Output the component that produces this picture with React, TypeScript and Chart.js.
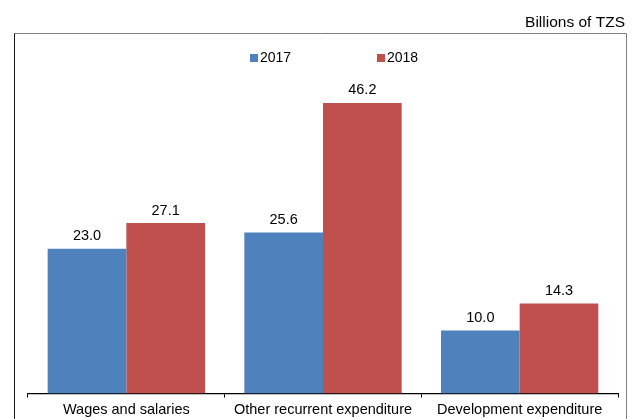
import React, { useEffect, useRef } from "react";
import { Chart, registerables } from "chart.js";

Chart.register(...registerables);

const categories = ["Wages and salaries", "Other recurrent expenditure", "Development expenditure"];
const series2017 = [23.0, 25.6, 10.0];
const series2018 = [27.1, 46.2, 14.3];
const seriesLabels = ["2017", "2018"];
const seriesColors = ["#4F81BD", "#C0504D"];
const unitLabel = "Billions of TZS";

const FONT = "'Liberation Sans', Arial, sans-serif";

const framePlugin = {
  id: "frame",
  beforeDraw(chart: any) {
    const ctx = chart.ctx;
    ctx.save();
    ctx.fillStyle = "#ffffff";
    ctx.fillRect(0, 0, chart.width, chart.height);
    ctx.lineWidth = 1;
    ctx.strokeStyle = "#808080";
    ctx.beginPath();
    ctx.moveTo(14.5, 33.5);
    ctx.lineTo(626.5, 33.5);
    ctx.lineTo(626.5, chart.height);
    ctx.stroke();
    ctx.strokeStyle = "#1a1a1a";
    ctx.beginPath();
    ctx.moveTo(14.5, 33.5);
    ctx.lineTo(14.5, chart.height);
    ctx.stroke();
    ctx.fillStyle = "#000";
    ctx.font = `15.5px ${FONT}`;
    ctx.textAlign = "right";
    ctx.textBaseline = "middle";
    ctx.fillText(unitLabel, 625, 23);
    // legend
    ctx.font = `14px ${FONT}`;
    const items = chart.data.datasets;
    const xs = [250, 377];
    items.forEach((ds: any, i: number) => {
      ctx.fillStyle = ds.backgroundColor;
      ctx.fillRect(xs[i], 54, 8, 8);
      ctx.fillStyle = "#000";
      ctx.textAlign = "left";
      ctx.fillText(ds.label, xs[i] + 10, 58.5);
    });
    ctx.restore();
  },
  afterDatasetsDraw(chart: any) {
    const ctx = chart.ctx;
    ctx.save();
    ctx.font = `14.5px ${FONT}`;
    ctx.fillStyle = "#000";
    ctx.textAlign = "center";
    ctx.textBaseline = "middle";
    chart.data.datasets.forEach((ds: any, di: number) => {
      const meta = chart.getDatasetMeta(di);
      meta.data.forEach((bar: any, i: number) => {
        ctx.fillText(Number(ds.data[i]).toFixed(1), bar.x, bar.y - 12.5);
      });
    });
    ctx.restore();
  },
};

export default function App() {
  const ref = useRef<HTMLCanvasElement | null>(null);
  useEffect(() => {
    document.body.style.margin = "0";
    const chart = new Chart(ref.current!, {
      type: "bar",
      data: {
        labels: categories,
        datasets: [
          { label: seriesLabels[0], data: series2017, backgroundColor: seriesColors[0] },
          { label: seriesLabels[1], data: series2018, backgroundColor: seriesColors[1] },
        ],
      },
      options: {
        animation: false,
        responsive: false,
        maintainAspectRatio: false,
        layout: { padding: { left: 28, right: 20, top: 79, bottom: 0 } },
        plugins: { legend: { display: false }, tooltip: { enabled: false }, title: { display: false } },
        datasets: { bar: { categoryPercentage: 0.8, barPercentage: 1.0 } },
        scales: {
          x: {
            afterFit: (s: any) => { s.height = 25.5; },
            border: { display: true, color: "#000", width: 1.2 },
            grid: { offset: true, drawOnChartArea: false, drawTicks: true, tickLength: 4, color: "#000" },
            ticks: { color: "#000", font: { family: FONT, size: 14.5 }, padding: 4, maxRotation: 0, autoSkip: false },
          },
          y: { display: false, min: 0, max: 50 },
        },
      },
      plugins: [framePlugin],
    });
    return () => chart.destroy();
  }, []);
  return <canvas ref={ref} width={638} height={419} style={{ display: "block" }} />;
}
